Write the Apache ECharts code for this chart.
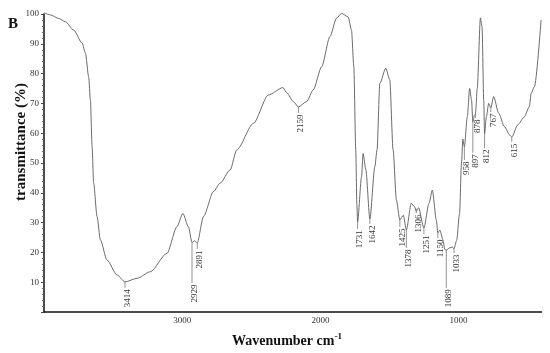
<!DOCTYPE html>
<html>
<head>
<meta charset="utf-8">
<script src="https://cdn.jsdelivr.net/npm/echarts@6/dist/echarts.min.js"></script>
<style>html,body{margin:0;padding:0;background:#fff}#c{width:550px;height:353px}</style>
</head>
<body>
<div id="c"></div>
<script>
// Spectrum (wavenumber cm-1, transmittance %)
var wavenumber = [4000,3953,3893,3845,3785,3724,3700,3677,3664,3652,3641,3616,3592,3544,3471,3414,3327,3231,3110,3038,2995,2955,2929,2910,2891,2846,2774,2726,2653,2605,2485,2377,2271,2242,2196,2159,2100,2052,1991,1931,1883,1847,1799,1775,1758,1744,1736,1731,1702,1691,1671,1642,1606,1590,1570,1527,1498,1474,1450,1425,1400,1378,1342,1318,1306,1290,1251,1214,1190,1161,1150,1135,1113,1100,1089,1065,1045,1033,1014,993,979,969,958,937,920,906,897,885,878,865,842,830,818,812,799,782,767,746,710,668,630,615,572,524,488,475,451,403];
var transmittance = [100.4,99.7,98.5,97.4,94.6,90.2,86.8,79,71,55.5,43.3,32,24.2,17.4,12.4,10.1,11.3,13.5,19.7,28.6,33.1,28.6,23.3,23.9,23.2,32,40.4,43.2,47.7,54.4,63.3,72.8,75.3,73.5,70.6,68.8,70.6,74.5,82.3,92.4,98.6,100.2,99,94.6,82.3,54.4,36,30.2,45.4,53.2,47.7,31.2,48.8,54.4,76.7,81.8,77.9,54.4,37.6,30.9,32.5,27.5,36.5,35.3,33.8,35,28.2,36.5,40.9,30.9,26.5,27.5,24.2,21,20.8,21.5,21.8,21.3,24,33,50,58,55.4,65.5,75,71.1,63.8,66,66.4,75,98.7,95.8,71.1,59.7,65.5,70,68.5,72.3,66.7,62.2,59.4,58.7,62.8,65.5,68.9,73.4,75.6,98];

// Peak annotations: wavenumber, curve value at leader top, leader end value
var peakWavenumbers = [3414,2929,2891,2159,1731,1642,1425,1378,1306,1251,1150,1089,1033,958,897,878,812,767,615];
var peakTop =         [10.1,23.3,23.2,68.8,30.2,31.2,30.9,27.5,34.6,28.2,26.5,20.8,21.5,55.4,63.8,66.4,59.7,68.5,58.7];
var peakLeaderEnd =   [8.1, 9.7, 21.1,66.8,27.9,29.5,28.5,21.5,33.2,26.2,24.8,8.1, 19.8,51.0,53.4,65.1,55.0,67.1,57.0];

var xTickLabels = [3000, 2000, 1000];
var yTickLabels = [10,20,30,40,50,60,70,80,90,100];

var serif = "'Liberation Serif','Times New Roman',serif";

var lineData = wavenumber.map(function(w, i){ return [w, transmittance[i]]; });
var peakData = peakWavenumbers.map(function(w, i){ return [w, peakTop[i], peakLeaderEnd[i]]; });

var chart = echarts.init(document.getElementById('c'));
chart.setOption({
  animation: false,
  backgroundColor: '#fff',
  grid: {left: 44, right: 8.5, top: 14, bottom: 41},
  xAxis: {
    type: 'value', inverse: true, min: 400, max: 4000, interval: 200,
    axisLine: {show: true, lineStyle: {color: '#111', width: 1.5}},
    axisTick: {show: false},
    splitLine: {show: false},
    axisLabel: {
      margin: 4, fontFamily: serif, fontSize: 9, color: '#333',
      formatter: function(v){ return xTickLabels.indexOf(v) >= 0 ? String(v) : ''; }
    }
  },
  yAxis: {
    type: 'value', min: 0, max: 100, interval: 10,
    axisLine: {show: true, lineStyle: {color: '#111', width: 1.5}},
    axisTick: {show: true, length: 3, lineStyle: {color: '#444'}},
    minorTick: {show: true, splitNumber: 5, length: 2, lineStyle: {color: '#666'}},
    splitLine: {show: false},
    axisLabel: {
      margin: 5, fontFamily: serif, fontSize: 9, color: '#333',
      formatter: function(v){ return yTickLabels.indexOf(v) >= 0 ? String(v) : ''; }
    }
  },
  graphic: [
    {type: 'text', left: 8, top: 17, style: {text: 'B', font: 'bold 15px ' + serif, fill: '#111'}},
    {type: 'text', x: 21, y: 142, rotation: Math.PI/2,
     style: {text: 'transmittance (%)', font: 'bold 15px ' + serif, fill: '#111', align: 'center', verticalAlign: 'middle'}},
    {type: 'text', x: 287, y: 341,
     style: {text: '{a|Wavenumber cm}{b|-1}', align: 'center', verticalAlign: 'middle', fill: '#111',
       rich: {a: {font: 'bold 14px ' + serif, fill: '#111'},
              b: {font: 'bold 9px ' + serif, fill: '#111', padding: [0,0,8,0]}}}}
  ],
  series: [
    {
      type: 'line', data: lineData, showSymbol: false, clip: false,
      smooth: 0.25, smoothMonotone: 'x',
      lineStyle: {color: '#5a5a5a', width: 0.9}
    },
    {
      type: 'custom', data: peakData, clip: false,
      renderItem: function(params, api){
        var w = api.value(0);
        var p1 = api.coord([w, api.value(1)]);
        var p2 = api.coord([w, api.value(2)]);
        return {
          type: 'group',
          children: [
            {type: 'line', shape: {x1: p1[0], y1: p1[1], x2: p2[0], y2: p2[1]},
             style: {stroke: '#777', lineWidth: 0.8}},
            {type: 'text', x: p2[0] + 2.5, y: p2[1] + 1.5, rotation: Math.PI/2,
             style: {text: String(w), align: 'right', verticalAlign: 'middle',
                     font: '9px ' + serif, fill: '#333'}}
          ]
        };
      }
    }
  ]
});
</script>
</body>
</html>
